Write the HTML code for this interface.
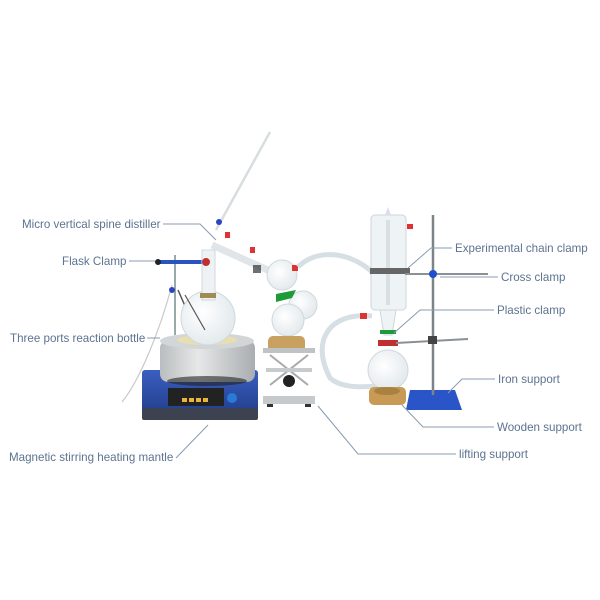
<!DOCTYPE html>
<html><head><meta charset="utf-8"><style>
html,body{margin:0;padding:0;background:#fff;}
svg{display:block}
text{font-family:"Liberation Sans",Arial,sans-serif;font-size:11.6px;fill:#5c7390;}
.ld{stroke:#8a9bb0;stroke-width:1;fill:none}
</style></head><body>
<svg width="600" height="600" viewBox="0 0 600 600" xmlns="http://www.w3.org/2000/svg">
<defs>
<linearGradient id="blue" x1="0" y1="0" x2="0" y2="1"><stop offset="0" stop-color="#3b5fc0"/><stop offset="1" stop-color="#23408f"/></linearGradient>
<linearGradient id="gray" x1="0" y1="0" x2="1" y2="0"><stop offset="0" stop-color="#b9bdbf"/><stop offset=".4" stop-color="#e6e8e8"/><stop offset="1" stop-color="#a9adb0"/></linearGradient>
<radialGradient id="glass" cx=".4" cy=".4" r=".7"><stop offset="0" stop-color="#ffffff"/><stop offset="1" stop-color="#dfe6ea"/></radialGradient>
</defs>

<path d="M122,402 C140,380 160,330 172,285" stroke="#c9c9c9" stroke-width="1.2" fill="none"/>
<line x1="175" y1="255" x2="175" y2="335" stroke="#9aa" stroke-width="2"/>
<line x1="178" y1="290" x2="200" y2="340" stroke="#555" stroke-width="1.5"/>
<line x1="160" y1="262" x2="205" y2="262" stroke="#2a55c0" stroke-width="4"/>
<circle cx="158" cy="262" r="3" fill="#222"/>
<circle cx="172" cy="290" r="3" fill="#2a45c0"/>
<rect x="142" y="370" width="116" height="42" rx="3" fill="url(#blue)"/>
<rect x="142" y="408" width="116" height="12" rx="2" fill="#3c4250"/>
<rect x="168" y="388" width="56" height="18" fill="#222"/>
<rect x="182" y="398" width="5" height="4" fill="#e9b53a"/><rect x="189" y="398" width="5" height="4" fill="#e9b53a"/><rect x="196" y="398" width="5" height="4" fill="#e9b53a"/><rect x="203" y="398" width="5" height="4" fill="#e9b53a"/>
<circle cx="232" cy="398" r="5" fill="#2a7ad8"/>
<rect x="160" y="340" width="95" height="42" rx="8" fill="url(#gray)"/>
<ellipse cx="207" cy="341" rx="47" ry="8" fill="#d3d6d6"/>
<ellipse cx="207" cy="340" rx="30" ry="5" fill="#e8dfb0"/>
<ellipse cx="207" cy="381" rx="40" ry="5" fill="#222" opacity=".6"/>
<circle cx="208" cy="318" r="27" fill="url(#glass)" stroke="#cfd8dc"/>
<rect x="202" y="250" width="13" height="50" fill="#eef2f4" stroke="#d0d8dc"/>
<rect x="200" y="293" width="16" height="5" fill="#a08a55"/>
<line x1="185" y1="295" x2="205" y2="330" stroke="#555" stroke-width="1.2"/>
<line x1="216" y1="230" x2="270" y2="132" stroke="#d8dde0" stroke-width="2.5"/>
<circle cx="219" cy="222" r="3" fill="#2a45c0"/>
<circle cx="206" cy="262" r="4" fill="#c03030"/>
<line x1="212" y1="245" x2="272" y2="272" stroke="#dfe5e8" stroke-width="7"/>
<rect x="225" y="232" width="5" height="6" fill="#d33"/>
<rect x="250" y="247" width="5" height="6" fill="#d33"/>
<rect x="253" y="265" width="8" height="8" fill="#333" opacity=".7"/>
<circle cx="282" cy="275" r="15" fill="url(#glass)" stroke="#cfd8dc"/>
<circle cx="303" cy="305" r="14" fill="url(#glass)" stroke="#cfd8dc"/>
<circle cx="288" cy="320" r="16" fill="url(#glass)" stroke="#cfd8dc"/>
<path d="M276,294 l20,-4 l-4,8 l-16,4z" fill="#1f9a3a"/>
<rect x="292" y="265" width="6" height="6" fill="#d33"/>
<rect x="268" y="336" width="37" height="16" rx="5" fill="#c8a060"/>
<rect x="263" y="348" width="52" height="5" fill="#bfc3c6"/>
<path d="M270,355 L308,385 M308,355 L270,385" stroke="#aaa" stroke-width="2"/>
<rect x="266" y="368" width="46" height="4" fill="#c8cbcd"/>
<circle cx="289" cy="381" r="6" fill="#222"/>
<rect x="263" y="396" width="52" height="8" fill="#c7cacc"/>
<rect x="267" y="404" width="6" height="3" fill="#333"/><rect x="305" y="404" width="6" height="3" fill="#333"/>
<path d="M298,267 C315,250 345,250 370,270 C385,290 388,305 390,330" stroke="#d6dfe4" stroke-width="5" fill="none"/>
<path d="M372,316 C330,312 310,340 330,378 C345,392 380,385 385,385" stroke="#d6dfe4" stroke-width="5" fill="none"/>
<rect x="360" y="313" width="7" height="6" fill="#d33"/>
<rect x="371" y="215" width="35" height="95" rx="4" fill="#eef3f5" stroke="#cdd6da"/>
<line x1="388" y1="220" x2="388" y2="305" stroke="#d8e0e4" stroke-width="4"/>
<path d="M385,215 l3,-8 l3,8z" fill="#dde"/>
<rect x="407" y="224" width="6" height="5" fill="#d33"/>
<rect x="370" y="268" width="40" height="6" fill="#666"/>
<path d="M380,310 L396,310 L392,335 L384,335z" fill="#eef3f5" stroke="#cdd6da"/>
<rect x="380" y="330" width="16" height="4" fill="#1f9a3a"/>
<rect x="378" y="340" width="20" height="6" fill="#c03030"/>
<circle cx="388" cy="370" r="20" fill="url(#glass)" stroke="#cfd8dc"/>
<rect x="369" y="387" width="37" height="18" rx="5" fill="#c89a55"/>
<ellipse cx="387" cy="391" rx="13" ry="4" fill="#8a6a30" opacity=".5"/>
<path d="M410,390 L455,390 L462,410 L406,410z" fill="#2a55c8"/>
<line x1="433" y1="215" x2="433" y2="395" stroke="#7d8488" stroke-width="2.5"/>
<line x1="405" y1="274" x2="488" y2="274" stroke="#8a9094" stroke-width="2"/>
<circle cx="433" cy="274" r="4" fill="#1e4fd0"/>
<line x1="396" y1="343" x2="468" y2="339" stroke="#8a9094" stroke-width="2"/>
<rect x="428" y="336" width="9" height="8" fill="#444"/>

<text x="22" y="228">Micro vertical spine distiller</text>
<path class="ld" d="M163,224 L200,224 L216,240"/>
<text x="62" y="265">Flask Clamp</text>
<line class="ld" x1="129" y1="261" x2="155" y2="261"/>
<text x="10" y="342">Three ports reaction bottle</text>
<line class="ld" x1="147" y1="338" x2="160" y2="338"/>
<text x="9" y="461">Magnetic stirring heating mantle</text>
<line class="ld" x1="176" y1="458" x2="208" y2="425"/>
<text x="455" y="252">Experimental chain clamp</text>
<path class="ld" d="M452,248 L431,248 L408,268"/>
<text x="501" y="281">Cross clamp</text>
<line class="ld" x1="440" y1="277" x2="498" y2="277"/>
<text x="497" y="314">Plastic clamp</text>
<path class="ld" d="M494,310 L420,310 L394,333"/>
<text x="498" y="383">Iron support</text>
<path class="ld" d="M495,379 L462,379 L448,393"/>
<text x="497" y="431">Wooden support</text>
<path class="ld" d="M494,427 L423,427 L402,405"/>
<text x="459" y="458">lifting support</text>
<path class="ld" d="M456,454 L358,454 L318,406"/>
</svg>
</body></html>
